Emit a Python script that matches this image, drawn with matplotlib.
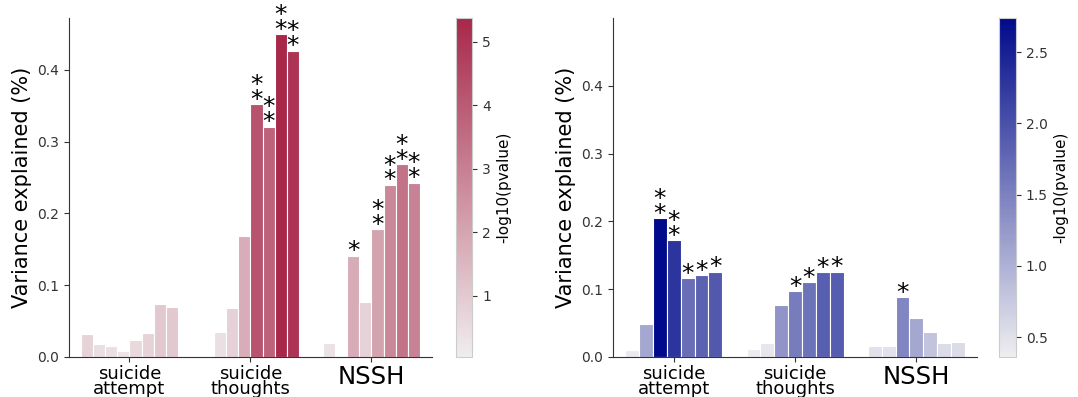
import numpy as np
import matplotlib
matplotlib.use("Agg")
import matplotlib.pyplot as plt
from matplotlib.colors import LinearSegmentedColormap, Normalize
from matplotlib.cm import ScalarMappable

# phenotypes on the x axis
groups = ["suicide\nattempt", "suicide\nthoughts", "NSSH"]

# left panel: 8 bars per phenotype (nan = no bar)
left_var = [
    [0.032, 0.018, 0.015, 0.009, 0.024, 0.034, 0.074, 0.070],
    [np.nan, 0.035, 0.068, 0.169, 0.352, 0.321, 0.450, 0.427],
    [0.020, np.nan, 0.141, 0.077, 0.178, 0.240, 0.269, 0.243],
]
left_logp = [
    [0.75, 0.45, 0.40, 0.30, 0.60, 0.75, 1.05, 1.00],
    [np.nan, 0.40, 0.80, 1.80, 4.20, 3.80, 5.37, 5.05],
    [0.35, np.nan, 1.85, 0.80, 2.05, 2.80, 3.35, 2.95],
]
left_stars = [
    [0, 0, 0, 0, 0, 0, 0, 0],
    [0, 0, 0, 0, 2, 2, 2, 2],
    [0, 0, 1, 0, 2, 2, 2, 2],
]

# right panel: 7 bars per phenotype
right_var = [
    [0.010, 0.049, 0.205, 0.172, 0.116, 0.121, 0.126],
    [0.012, 0.021, 0.077, 0.097, 0.110, 0.125, 0.126],
    [0.016, 0.016, 0.088, 0.058, 0.037, 0.021, 0.022],
]
right_logp = [
    [0.40, 1.10, 2.74, 2.30, 1.70, 1.82, 1.92],
    [0.38, 0.45, 1.30, 1.55, 1.65, 1.85, 1.88],
    [0.50, 0.50, 1.45, 1.10, 0.80, 0.55, 0.55],
]
right_stars = [
    [0, 0, 2, 2, 1, 1, 1],
    [0, 0, 0, 1, 1, 1, 1],
    [0, 0, 1, 0, 0, 0, 0],
]

text_col = "#333333"
plt.rcParams["font.family"] = "DejaVu Sans"

reds = LinearSegmentedColormap.from_list("reds", ["#efedee", "#a8284a"])
blues = LinearSegmentedColormap.from_list("blues", ["#eeeef0", "#000a8a"])


def panel(ax, cax, values, logp, stars, cmap, vmin, vmax, ylim):
    norm = Normalize(vmin=vmin, vmax=vmax)
    n = len(values[0])
    w = 0.8 / n
    for g in range(len(groups)):
        for i in range(n):
            v = values[g][i]
            if np.isnan(v):
                continue
            x = g + (i - (n - 1) / 2) * w
            ax.bar(x, v, width=w, color=cmap(norm(logp[g][i])),
                   edgecolor="white", linewidth=0.8)
            # significance asterisks stacked above the bar
            if stars[g][i]:
                ax.annotate("\n".join(["*"] * stars[g][i]), xy=(x, v),
                            xytext=(0, -5.5), textcoords="offset points",
                            ha="center", va="bottom", fontsize=18,
                            linespacing=0.52, color="black")
    ax.set_xlim(-0.5, 2.5)
    ax.set_ylim(0, ylim)
    ax.set_yticks([0, 0.1, 0.2, 0.3, 0.4])
    ax.set_xticks(range(len(groups)))
    ax.set_xticklabels(groups, linespacing=0.8)
    for lab, fs in zip(ax.get_xticklabels(), [13, 13, 17.5]):
        lab.set_fontsize(fs)
    ax.tick_params(axis="y", labelsize=10, colors=text_col)
    ax.tick_params(axis="x", pad=2, colors=text_col)
    for lab in ax.get_xticklabels():
        lab.set_color("black")
    ax.spines["top"].set_visible(False)
    ax.spines["right"].set_visible(False)
    ax.spines["left"].set_color(text_col)
    ax.spines["bottom"].set_color(text_col)
    ax.set_ylabel("Variance explained (%)", fontsize=15, color="black")

    cb = plt.colorbar(ScalarMappable(norm=norm, cmap=cmap), cax=cax)
    cb.outline.set_edgecolor("#cccccc")
    cb.ax.tick_params(labelsize=10, colors=text_col)
    cb.set_label("-log10(pvalue)", fontsize=11, color="black")


fig = plt.figure(figsize=(10.78, 3.97), dpi=100)
ax1 = fig.add_axes([0.064, 0.1008, 0.3367, 0.8539])
cax1 = fig.add_axes([0.4227, 0.1008, 0.0154, 0.8539])
ax2 = fig.add_axes([0.5687, 0.1008, 0.3376, 0.8539])
cax2 = fig.add_axes([0.927, 0.1008, 0.0155, 0.8539])

panel(ax1, cax1, left_var, left_logp, left_stars, reds, 0.04, 5.37, 0.4725)
panel(ax2, cax2, right_var, right_logp, right_stars, blues, 0.36, 2.74, 0.5)

fig.savefig("out.png", dpi=100)
